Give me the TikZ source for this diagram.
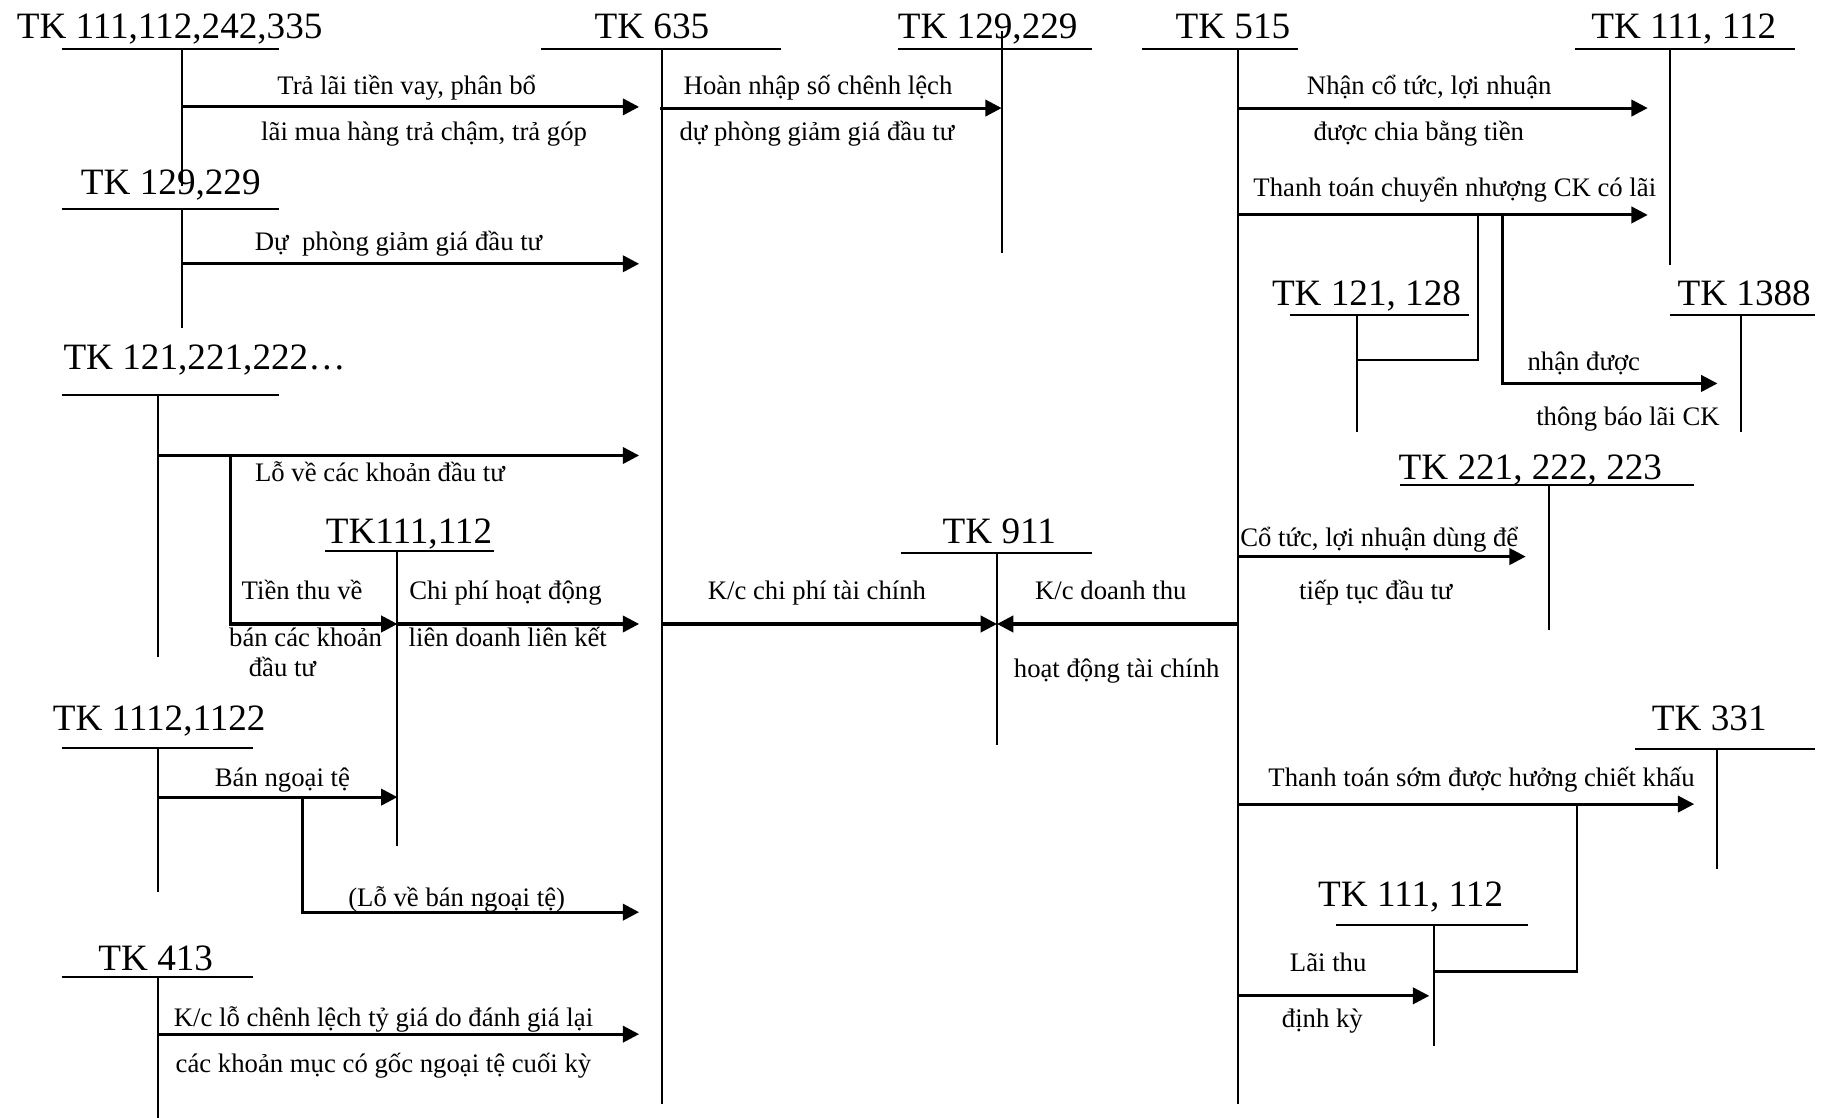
\documentclass[tikz,border=0pt]{standalone}
\usepackage{fontspec}
\setmainfont{Liberation Serif}
\usetikzlibrary{arrows.meta}
\tikzset{
  acct/.style={font=\fontsize{16}{19}\selectfont, inner sep=0pt, anchor=base},
  lbl/.style={font=\fontsize{11.5}{14}\selectfont, inner sep=0pt, anchor=base},
  tline/.style={line width=0.85pt},
  flow/.style={-{Triangle[length=7pt,width=7pt]}, line width=1.3pt},
  link/.style={line width=1pt},
}

\begin{document}
\begin{tikzpicture}[x=0.5pt,y=-0.5pt]
  \useasboundingbox (0,0) rectangle (1568,962);

  % account titles
  \node[acct] (t111a) at (146,33)  {TK 111,112,242,335};
  \node[acct] (t635)  at (561,33)  {TK 635};
  \node[acct] (t129a) at (850,33)  {TK 129,229};
  \node[acct] (t515)  at (1061,33) {TK 515};
  \node[acct] (t111b) at (1449,33) {TK 111, 112};
  \node[acct] (t129b) at (147,167) {TK 129,229};
  \node[acct] (t121a) at (176,318) {TK 121,221,222…};
  \node[acct] (t111c) at (352,468) {TK111,112};
  \node[acct] (t911)  at (860,468) {TK 911};
  \node[acct] (t1112) at (137,629) {TK 1112,1122};
  \node[acct] (t413)  at (134,835) {TK 413};
  \node[acct] (t121b) at (1176,263) {TK 121, 128};
  \node[acct] (t1388) at (1501,263) {TK 1388};
  \node[acct] (t221)  at (1317,413) {TK 221, 222, 223};
  \node[acct] (t331)  at (1471,629) {TK 331};
  \node[acct] (t111d) at (1214,780) {TK 111, 112};

  % T accounts: underline + vertical
  \foreach \nm/\ul/\ur/\uy/\vx/\vt/\vb in {
      t111a/53/240/42/157/42/160, t635/466/672/42/570/42/950,
      t129a/773/940/42/862/27/218, t515/983/1117/42/1065/42/950,
      t111b/1355/1545/42/1437/42/228, t129b/53/240/180/157/180/282,
      t121a/53/240/340/136/340/565, t111c/280/425/474/342/474/728,
      t911/775/940/476/858/476/641, t1112/53/218/644/136/644/768,
      t413/53/218/841/136/841/962, t121b/1110/1264/271/1168/271/372,
      t1388/1437/1562/271/1498/271/372, t221/1205/1458/417/1333/417/542,
      t331/1407/1562/645/1478/645/748, t111d/1150/1315/796/1234/796/900}{
    \coordinate (\nm-l) at (\ul,\uy);
    \coordinate (\nm-r) at (\ur,\uy);
    \coordinate (\nm-t) at (\vx,\vt);
    \coordinate (\nm-b) at (\vx,\vb);
    \draw[tline] (\nm-l) -- (\nm-r) (\nm-t) -- (\nm-b);
  }

  % straight entries
  \foreach \nm/\xs/\xe/\y in {
      tralai/157/550/92, hoan/568/862/93, duphong/157/550/227,
      lodt/136/550/392, cpld/342/550/537, kccp/570/858/537,
      kcdt/1065/858/537, bannt/136/342/686, kc413/136/550/890,
      nhanct/1065/1418/93, ttck/1065/1418/185, cotuc/1065/1313/479,
      ttsom/1065/1458/692, laithu/1065/1230/857}{
    \coordinate (\nm-s) at (\xs,\y);
    \coordinate (\nm-e) at (\xe,\y);
    \draw[flow] (\nm-s) -- (\nm-e);
  }

  % branches
  \coordinate (tienthu-s) at (198,392);  \coordinate (tienthu-e) at (342,537);
  \coordinate (lobannt-s) at (260,686);  \coordinate (lobannt-e) at (550,785);
  \coordinate (ck121-s)   at (1272,185); \coordinate (ck121-e)   at (1168,310);
  \coordinate (ck1388-s)  at (1293,185); \coordinate (ck1388-e)  at (1478,330);
  \coordinate (som111-s)  at (1357,692); \coordinate (som111-e)  at (1234,836);
  \draw[flow] (tienthu-s) |- (tienthu-e);
  \draw[flow] (lobannt-s) |- (lobannt-e);
  \draw[link] (ck121-s) |- (ck121-e);
  \draw[flow] (ck1388-s) |- (ck1388-e);
  \draw[link] (som111-s) |- (som111-e);

  % labels
  \node[lbl] (l-tralai1) at (350,81)  {Trả lãi tiền vay, phân bổ};
  \node[lbl] (l-tralai2) at (365,121) {lãi mua hàng trả chậm, trả góp};
  \node[lbl] (l-hoan1)   at (704,81)  {Hoàn nhập số chênh lệch};
  \node[lbl] (l-hoan2)   at (703,121) {dự phòng giảm giá đầu tư};
  \node[lbl] (l-duphong) at (343,216) {Dự\ \ phòng giảm giá đầu tư};
  \node[lbl] (l-lodt)    at (327,414) {Lỗ về các khoản đầu tư};
  \node[lbl] (l-tien1)   at (260,516) {Tiền thu về};
  \node[lbl] (l-tien2)   at (263,556) {bán các khoản};
  \node[lbl] (l-tien3)   at (243,582) {đầu tư};
  \node[lbl] (l-cpld1)   at (435,516) {Chi phí hoạt động};
  \node[lbl] (l-cpld2)   at (437,556) {liên doanh liên kết};
  \node[lbl] (l-kccp)    at (703,516) {K/c chi phí tài chính};
  \node[lbl] (l-kcdt1)   at (956,516) {K/c doanh thu};
  \node[lbl] (l-kcdt2)   at (961,583) {hoạt động tài chính};
  \node[lbl] (l-bannt)   at (243,677) {Bán ngoại tệ};
  \node[lbl] (l-lobannt) at (393,780) {(Lỗ về bán ngoại tệ)};
  \node[lbl] (l-kc4131)  at (330,883) {K/c lỗ chênh lệch tỷ giá do đánh giá lại};
  \node[lbl] (l-kc4132)  at (330,923) {các khoản mục có gốc ngoại tệ cuối kỳ};
  \node[lbl] (l-nhan1)   at (1230,81)  {Nhận cổ tức, lợi nhuận};
  \node[lbl] (l-nhan2)   at (1221,121) {được chia bằng tiền};
  \node[lbl] (l-ttck)    at (1252,169) {Thanh toán chuyển nhượng CK có lãi};
  \node[lbl] (l-tb1)     at (1363,319) {nhận được};
  \node[lbl] (l-tb2)     at (1401,366) {thông báo lãi CK};
  \node[lbl] (l-cotuc1)  at (1187,470) {Cổ tức, lợi nhuận dùng để};
  \node[lbl] (l-cotuc2)  at (1184,516) {tiếp tục đầu tư};
  \node[lbl] (l-ttsom)   at (1275,677) {Thanh toán sớm được hưởng chiết khấu};
  \node[lbl] (l-lai1)    at (1143,836) {Lãi thu};
  \node[lbl] (l-lai2)    at (1138,884) {định kỳ};
\end{tikzpicture}
\end{document}
